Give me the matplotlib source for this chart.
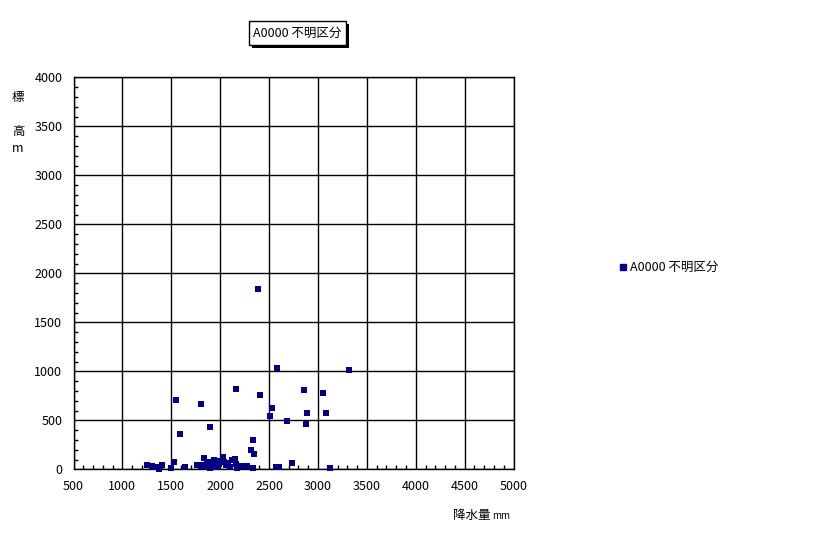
import matplotlib.pyplot as plt
from matplotlib.ticker import MultipleLocator
import matplotlib.patches as mpatches

plt.rcParams['font.family'] = ['Noto Sans CJK JP', 'DejaVu Sans']

series_name = 'A0000 不明区分'

# precipitation (mm) and elevation (m)
rain = [2577, 3313, 2157, 2403, 2853, 3047, 1544, 1800, 2525, 2505,
        2893, 3087, 2679, 2873, 1892, 1585, 2331, 2311, 2341, 2730,
        3128, 2570, 2603, 2331, 2385,
        1248, 1299, 1343, 1377, 1401, 1493, 1524, 1636, 1766, 1831,
        1800, 1850, 1870, 1900, 1920, 1933, 1950, 1960, 1980, 2000,
        2025, 2038, 2060, 2099, 2117, 2147, 2174, 2212, 2240, 2270,
        1940, 1880, 1990, 1820, 2080, 2160]
elev = [1034, 1016, 822, 761, 812, 782, 710, 669, 629, 547,
        578, 578, 496, 465, 435, 363, 302, 200, 159, 67,
        16, 20, 20, 15, 1843,
        47, 37, 20, 7, 47, 16, 77, 26, 47, 118,
        30, 20, 50, 10, 40, 88, 60, 20, 30, 80,
        128, 77, 40, 27, 98, 101, 10, 34, 30, 34,
        90, 70, 50, 40, 60, 50]

W, H = 816, 534
fig = plt.figure(figsize=(W / 100, H / 100), dpi=100)
ax = fig.add_axes([73.5 / W, 1 - 469.3 / H, 440 / W, 392 / H])

ax.scatter(rain, elev, marker='s', s=24, color='#000080', linewidths=0, zorder=3,
           label=series_name, clip_on=False)

ax.set_xlim(500, 5000)
ax.set_ylim(0, 4000)
ax.xaxis.set_major_locator(MultipleLocator(500))
ax.yaxis.set_major_locator(MultipleLocator(500))
ax.xaxis.set_minor_locator(MultipleLocator(100))
ax.yaxis.set_minor_locator(MultipleLocator(100))
ax.tick_params(which='major', length=0, labelsize=9, pad=8, colors='black')
ax.tick_params(which='minor', direction='in', length=3, width=1)
ax.grid(True, which='major', color='black', linewidth=1)
for s in ax.spines.values():
    s.set_linewidth(1)
    s.set_color('black')
ax.set_axisbelow(True)

# y label: stacked characters
fig.text(18 / W, 1 - 98 / H, '標', fontsize=9, ha='center', va='center')
fig.text(18 / W, 1 - 131 / H, '高', fontsize=9, ha='center', va='center')
fig.text(18 / W, 1 - 148 / H, 'm', fontsize=9, ha='center', va='center')

# x label
fig.text(453 / W, 1 - 515 / H, '降水量', fontsize=9, ha='left', va='center')
fig.text(492 / W, 1 - 516 / H, 'mm', fontsize=7, ha='left', va='center')

# title box with shadow
fig.patches.append(mpatches.Rectangle((252 / W, 1 - 48 / H), 97 / W, 24 / H,
                                      transform=fig.transFigure, facecolor='black',
                                      edgecolor='none'))
fig.patches.append(mpatches.Rectangle((249 / W, 1 - 45 / H), 97 / W, 24 / H,
                                      transform=fig.transFigure, facecolor='white',
                                      edgecolor='black', linewidth=1))
fig.text(297.5 / W, 1 - 33 / H, series_name, fontsize=9, ha='center', va='center')

# legend
fig.lines.append(plt.Line2D([623 / W], [1 - 267 / H], marker='s', markersize=4.5,
                            color='#000080', linestyle='none', transform=fig.transFigure))
fig.text(630 / W, 1 - 267 / H, series_name, fontsize=9, ha='left', va='center')

fig.savefig('out.png', dpi=100)
